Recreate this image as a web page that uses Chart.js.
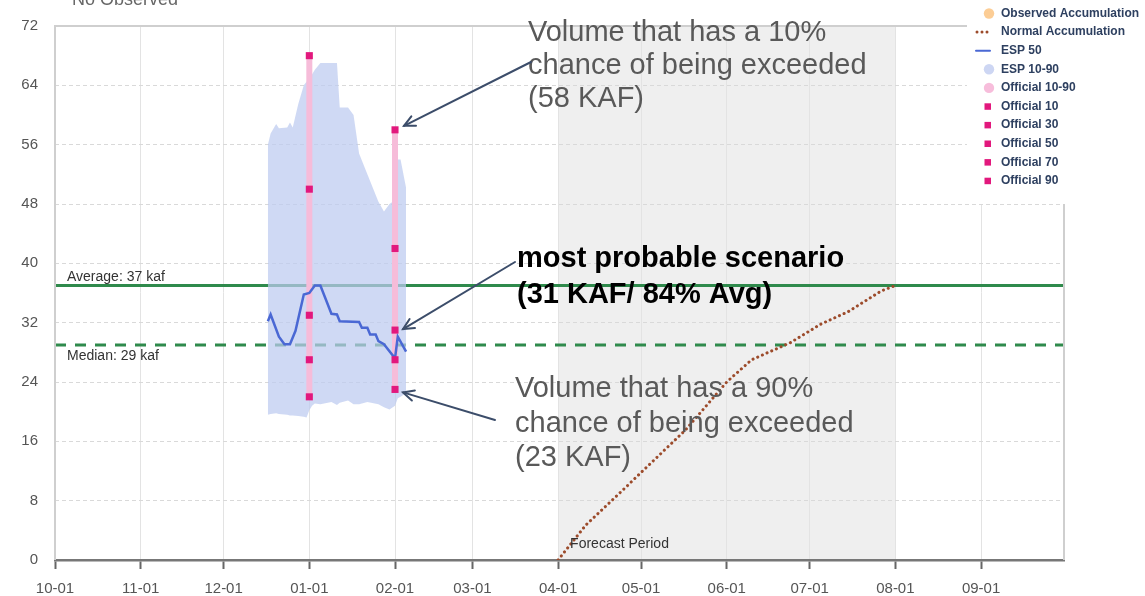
<!DOCTYPE html>
<html><head><meta charset="utf-8">
<script src="https://cdn.jsdelivr.net/npm/chart.js@4.4.1/dist/chart.umd.min.js"></script>
<style>html,body{margin:0;padding:0;background:#fff;overflow:hidden}#wrap{position:relative;width:1145px;height:596px}</style>
</head><body><div id="wrap"><canvas id="c" width="1145" height="596"></canvas></div>
<script>
// ---------- data ----------
const monthTickLabels = ['10-01','11-01','12-01','01-01','02-01','03-01','04-01','05-01','06-01','07-01','08-01','09-01'];
const yTickValues = [0, 8, 16, 24, 32, 40, 48, 56, 64, 72];

const espDates = ['12-17','12-18','12-20','12-21','12-24','12-25','12-26','12-28','12-30','12-31','01-01','01-02','01-03','01-05','01-09','01-11','01-12','01-15','01-17','01-19','01-22','01-26','01-28','01-30','02-01','02-02','02-03','02-05'];
const espHigh  = [56, 57.5, 58.8, 58.2, 58.3, 59, 58.3, 61.5, 64, 64.5, 65, 65.5, 66.1, 67, 67, 67, 61, 61, 60, 54.8, 52, 48.3, 47, 48, 48.5, 54, 54, 50.2];
const espLow   = [19.6, 19.7, 19.8, 19.7, 19.6, 19.5, 19.5, 19.4, 19.3, 19.2, 20.2, 20.8, 21.1, 21, 21.3, 20.9, 21.2, 21.5, 21, 21, 21.3, 21, 20.6, 20.3, 20.8, 21.8, 22, 22.5];

const esp50Dates  = ['12-17','12-18','12-21','12-23','12-25','12-27','12-30','01-01','01-03','01-05','01-09','01-11','01-12','01-19','01-20','01-22','01-23','01-25','01-26','01-28','02-01','02-02','02-05'];
const esp50Values = [32.2, 33.1, 30.1, 29.1, 29.1, 30.9, 35.8, 36, 37, 37, 33.2, 33.1, 32.2, 32.1, 31.3, 31.3, 30.4, 30.4, 29.5, 29.1, 27.2, 30.1, 28.1];

const officialDates = ['01-01', '02-01'];
const official10 = [68, 58];
const official30 = [50, 42];
const official50 = [33, 31];
const official70 = [27, 27];
const official90 = [22, 23];

const normalDates  = ['04-01','04-11','04-26','05-01','05-17','06-01','06-10','06-24','07-05','07-15','07-27','08-01'];
const normalValues = [0, 4.7, 10, 11.8, 17.5, 24, 27, 29.3, 31.8, 33.5, 36.3, 37];

const averageValue = 37;
const medianValue = 29;
const forecastPeriod = ['04-01', '08-01'];

// ---------- helpers ----------
const MONTH_START = {10:0, 11:31, 12:61, 1:92, 2:123, 3:151, 4:182, 5:212, 6:243, 7:273, 8:304, 9:335};
function dayOf(md){ const [m, d] = md.split('-').map(Number); return MONTH_START[m] + d - 1; }
const pts = (dates, vals) => dates.map((d, i) => ({x: dayOf(d), y: vals[i]}));
const FONT = "'Liberation Sans', Arial, sans-serif";

const officialBars = [];
officialDates.forEach((d, i) => {
  officialBars.push({x: dayOf(d), y: official90[i]}, {x: dayOf(d), y: official10[i]}, {x: dayOf(d), y: null});
});

const markerDs = (label, vals) => ({
  label, data: pts(officialDates, vals), showLine: false, pointStyle: 'rect',
  pointRadius: 5, pointHoverRadius: 5, pointBackgroundColor: '#e2187d', pointBorderWidth: 0,
  borderColor: '#e2187d', order: 1
});

const legendItems = [
  {label: 'Observed Accumulation', type: 'circle', color: 'rgba(251,196,130,0.85)'},
  {label: 'Normal Accumulation', type: 'dots', color: '#9c4b2b'},
  {label: 'ESP 50', type: 'line', color: '#4a68d4'},
  {label: 'ESP 10-90', type: 'circle', color: '#cdd6f3'},
  {label: 'Official 10-90', type: 'circle', color: '#f7bddb'},
  {label: 'Official 10', type: 'square', color: '#e2187d'},
  {label: 'Official 30', type: 'square', color: '#e2187d'},
  {label: 'Official 50', type: 'square', color: '#e2187d'},
  {label: 'Official 70', type: 'square', color: '#e2187d'},
  {label: 'Official 90', type: 'square', color: '#e2187d'}
];

function arrow(ctx, x0, y0, x1, y1){
  ctx.beginPath(); ctx.moveTo(x0, y0); ctx.lineTo(x1, y1); ctx.stroke();
  const a = Math.atan2(y1 - y0, x1 - x0), L = 12, s = 0.45;
  ctx.beginPath();
  ctx.moveTo(x1 - L*Math.cos(a - s), y1 - L*Math.sin(a - s));
  ctx.lineTo(x1, y1);
  ctx.lineTo(x1 - L*Math.cos(a + s), y1 - L*Math.sin(a + s));
  ctx.stroke();
}

const annot = {
  id: 'annot',
  beforeDraw(chart){
    const {ctx, chartArea: a, scales: {x}} = chart;
    const x0 = x.getPixelForValue(dayOf(forecastPeriod[0]));
    const x1 = x.getPixelForValue(dayOf(forecastPeriod[1]));
    ctx.save(); ctx.fillStyle = '#efefef'; ctx.fillRect(x0, a.top, x1 - x0, a.bottom - a.top); ctx.restore();
  },
  afterDraw(chart){
    const {ctx, chartArea: a, scales: {x, y}} = chart;
    ctx.save();
    // frame
    ctx.strokeStyle = '#cfcfcf'; ctx.lineWidth = 2;
    ctx.beginPath(); ctx.moveTo(a.left, a.bottom); ctx.lineTo(a.left, a.top); ctx.lineTo(a.right, a.top); ctx.lineTo(a.right, a.bottom); ctx.stroke();

    // title (cut at top)
    ctx.fillStyle = '#666'; ctx.font = `18px ${FONT}`; ctx.textBaseline = 'alphabetic'; ctx.textAlign = 'left';
    ctx.fillText('No Observed', 72, 5);

    // average / median labels
    ctx.fillStyle = '#333'; ctx.font = `14px ${FONT}`;
    ctx.fillText('Average: ' + averageValue + ' kaf', 67, y.getPixelForValue(averageValue) - 5);
    ctx.fillText('Median: ' + medianValue + ' kaf', 67, y.getPixelForValue(medianValue) + 15);

    // Forecast Period
    ctx.fillStyle = '#333'; ctx.font = `14px ${FONT}`;
    ctx.fillText('Forecast Period', x.getPixelForValue(dayOf(forecastPeriod[0])) + 12, a.bottom - 12);

    // annotation texts
    ctx.fillStyle = '#595959'; ctx.font = `29px ${FONT}`;
    ['Volume that has a 10%', 'chance of being exceeded', '(58 KAF)'].forEach((t, i) => ctx.fillText(t, 528, 41 + i*33));
    ['Volume that has a 90%', 'chance of being exceeded', '(23 KAF)'].forEach((t, i) => ctx.fillText(t, 515, 397 + i*34.5));
    ctx.fillStyle = '#000'; ctx.font = `bold 29px ${FONT}`;
    ['most probable scenario', '(31 KAF/ 84% Avg)'].forEach((t, i) => ctx.fillText(t, 517, 267 + i*36));

    // arrows
    const fx = x.getPixelForValue(dayOf(officialDates[1]));
    ctx.strokeStyle = '#3c4d6a'; ctx.lineWidth = 2; ctx.lineCap = 'round';
    arrow(ctx, 531, 62, fx + 9, y.getPixelForValue(official10[1]) - 4);
    arrow(ctx, 515, 262, fx + 8, y.getPixelForValue(official50[1]) - 1);
    arrow(ctx, 495, 420, fx + 8, y.getPixelForValue(official90[1]) + 3);

    // legend
    ctx.fillStyle = '#fff'; ctx.fillRect(967, 0, 178, 204);
    ctx.font = `bold 12px ${FONT}`; ctx.textBaseline = 'middle';
    legendItems.forEach((it, i) => {
      const cy = 13.5 + i*18.6;
      ctx.fillStyle = it.color; ctx.strokeStyle = it.color;
      if (it.type === 'circle') { ctx.beginPath(); ctx.arc(989, cy, 5.2, 0, Math.PI*2); ctx.fill(); }
      else if (it.type === 'square') { ctx.fillRect(984.5, cy - 3.2, 6.5, 6.5); }
      else if (it.type === 'line') { ctx.lineWidth = 2; ctx.beginPath(); ctx.moveTo(976, cy); ctx.lineTo(990, cy); ctx.stroke(); }
      else if (it.type === 'dots') { [977, 982, 987].forEach(dx => { ctx.beginPath(); ctx.arc(dx, cy, 1.5, 0, Math.PI*2); ctx.fill(); }); }
      ctx.fillStyle = '#2e4060';
      ctx.fillText(it.label, 1001, cy);
    });
    ctx.restore();
  }
};

new Chart(document.getElementById('c'), {
  type: 'line',
  data: {
    datasets: [
      {label: 'Average', data: [{x: 0, y: averageValue}, {x: 365, y: averageValue}], borderColor: '#2f8a4c', borderWidth: 3, pointRadius: 0, order: 10},
      {label: 'Median', data: [{x: 0, y: medianValue}, {x: 365, y: medianValue}], borderColor: '#2f8a4c', borderWidth: 3, borderDash: [11, 9], pointRadius: 0, order: 10},
      {label: 'Normal Accumulation', data: pts(normalDates, normalValues), borderColor: '#9c4b2b', borderWidth: 3, borderDash: [0.1, 5], borderCapStyle: 'round', pointRadius: 0, order: 9},
      {label: 'ESP 10-90', data: pts(espDates, espHigh), borderColor: 'transparent', borderWidth: 0, pointRadius: 0, fill: '+1', backgroundColor: 'rgba(188,203,240,0.72)', order: 8},
      {label: 'ESP 10-90 low', data: pts(espDates, espLow), borderColor: 'transparent', borderWidth: 0, pointRadius: 0, fill: false, order: 8},
      {label: 'Official 10-90', data: officialBars, borderColor: '#f6bcd9', borderWidth: 6, borderCapStyle: 'butt', pointRadius: 0, spanGaps: false, order: 5},
      {label: 'ESP 50', data: pts(esp50Dates, esp50Values), borderColor: '#4a68d4', borderWidth: 2.5, pointRadius: 0, order: 4},
      markerDs('Official 10', official10),
      markerDs('Official 30', official30),
      markerDs('Official 50', official50),
      markerDs('Official 70', official70),
      markerDs('Official 90', official90)
    ]
  },
  options: {
    responsive: false, animation: false, devicePixelRatio: 1,
    layout: {padding: {top: 17, right: 81, left: 0, bottom: 0}},
    elements: {line: {tension: 0}},
    plugins: {legend: {display: false}, tooltip: {enabled: false}},
    scales: {
      x: {
        type: 'linear', min: 0, max: 365,
        afterBuildTicks: s => { s.ticks = monthTickLabels.map(l => ({value: dayOf(l)})); },
        afterFit: s => { s.height = 36; },
        grid: {color: '#e3e3e3', lineWidth: 1, drawTicks: true, tickLength: 9, tickColor: '#666', tickWidth: 2},
        border: {display: true, color: '#777', width: 2.5},
        ticks: {font: {family: FONT, size: 15}, color: '#555', padding: 11, maxRotation: 0, autoSkip: false,
                callback: (v, i) => monthTickLabels[i]}
      },
      y: {
        min: 0, max: 72,
        afterBuildTicks: s => { s.ticks = yTickValues.map(v => ({value: v})); },
        afterFit: s => { s.width = 55; },
        grid: {color: '#d9d9d9', lineWidth: 1, drawTicks: false},
        border: {display: false, dash: [4, 3]},
        ticks: {font: {family: FONT, size: 15}, color: '#555', padding: 17}
      }
    }
  },
  plugins: [annot]
});
</script>
</body></html>
